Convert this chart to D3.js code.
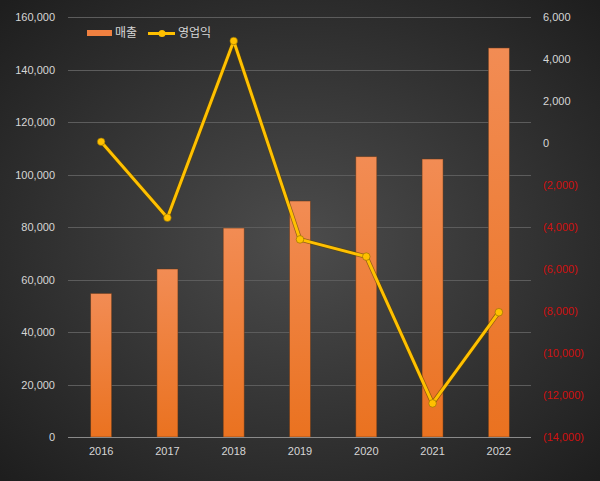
<!DOCTYPE html>
<html>
<head>
<meta charset="utf-8">
<script src="https://cdn.jsdelivr.net/npm/d3@7"></script>
<style>
  body { margin: 0; background: #2a2a2a; }
  svg { display: block; font-family: "Noto Sans CJK KR", "Noto Sans", sans-serif; }
</style>
</head>
<body>
<div id="chart"></div>
<script>
// Data
const years = ["2016", "2017", "2018", "2019", "2020", "2021", "2022"];
const sales = [54700, 64000, 79600, 89900, 106800, 105900, 148200];
const profit = [60, -3560, 4860, -4590, -5410, -12400, -8060];
const leftTicks = [0, 20000, 40000, 60000, 80000, 100000, 120000, 140000, 160000];
const rightTicks = [-14000, -12000, -10000, -8000, -6000, -4000, -2000, 0, 2000, 4000, 6000];

const width = 600, height = 481;
const margin = { top: 17, right: 68, bottom: 44, left: 68 };

const svg = d3.select("#chart").append("svg")
    .attr("width", width)
    .attr("height", height);

const defs = svg.append("defs");

// background: dark radial gradient
const bg = defs.append("radialGradient")
    .attr("id", "bg")
    .attr("cx", "50%").attr("cy", "50%").attr("r", "70%");
bg.append("stop").attr("offset", "0%").attr("stop-color", "#4c4c4c");
bg.append("stop").attr("offset", "100%").attr("stop-color", "#1e1e1e");

// bar gradient
const barGrad = defs.append("linearGradient")
    .attr("id", "barGrad")
    .attr("x1", 0).attr("y1", 0).attr("x2", 0).attr("y2", 1);
barGrad.append("stop").attr("offset", "0%").attr("stop-color", "#f28c54");
barGrad.append("stop").attr("offset", "100%").attr("stop-color", "#ea7220");

svg.append("rect")
    .attr("width", width)
    .attr("height", height)
    .attr("fill", "url(#bg)");

// scales
const x = d3.scaleBand()
    .domain(years)
    .range([margin.left, width - margin.right]);

const yLeft = d3.scaleLinear()
    .domain([0, 160000])
    .range([height - margin.bottom, margin.top]);

const yRight = d3.scaleLinear()
    .domain([-14000, 6000])
    .range([height - margin.bottom, margin.top]);

// gridlines
svg.append("g")
    .selectAll("line")
    .data(leftTicks.filter(d => d > 0))
    .enter()
    .append("line")
    .attr("x1", margin.left)
    .attr("x2", width - margin.right - 1)
    .attr("y1", d => Math.round(yLeft(d)) + 0.5)
    .attr("y2", d => Math.round(yLeft(d)) + 0.5)
    .attr("stroke", "#5c5c5c")
    .attr("stroke-width", 1);

// bars
const barWidth = 21;
svg.append("g")
    .selectAll("rect")
    .data(sales)
    .enter()
    .append("rect")
    .attr("x", (d, i) => x(years[i]) + x.bandwidth() / 2 - barWidth / 2)
    .attr("y", d => yLeft(d))
    .attr("width", barWidth)
    .attr("height", d => yLeft(0) - yLeft(d))
    .attr("fill", "url(#barGrad)")
    .attr("stroke", "#5a3418")
    .attr("stroke-opacity", 0.6)
    .attr("stroke-width", 0.8);

// bottom axis line
svg.append("line")
    .attr("x1", margin.left)
    .attr("x2", width - margin.right - 1)
    .attr("y1", yLeft(0) + 0.5)
    .attr("y2", yLeft(0) + 0.5)
    .attr("stroke", "#8a8a8a")
    .attr("stroke-width", 1.2);

// left axis
const leftAxis = svg.append("g")
    .attr("transform", `translate(${margin.left},0)`)
    .call(d3.axisLeft(yLeft).tickValues(leftTicks).tickSize(0).tickPadding(13)
        .tickFormat(d3.format(",")));
leftAxis.select(".domain").remove();
leftAxis.selectAll("text")
    .attr("fill", "#d6d6d6")
    .attr("font-size", "11px");

// right axis
const fmtRight = d => d < 0 ? "(" + d3.format(",")(-d) + ")" : d3.format(",")(d);
const rightAxis = svg.append("g")
    .attr("transform", `translate(${width - margin.right},0)`)
    .call(d3.axisRight(yRight).tickValues(rightTicks).tickSize(0).tickPadding(11)
        .tickFormat(fmtRight));
rightAxis.select(".domain").remove();
rightAxis.selectAll("text")
    .attr("fill", d => d < 0 ? "#d01010" : "#d6d6d6")
    .attr("font-size", "11px");

// bottom axis labels
const bottomAxis = svg.append("g")
    .attr("transform", `translate(0,${yLeft(0)})`)
    .call(d3.axisBottom(x).tickSize(0).tickPadding(10));
bottomAxis.select(".domain").remove();
bottomAxis.selectAll("text")
    .attr("fill", "#d6d6d6")
    .attr("font-size", "11px");

// profit line
const line = d3.line()
    .x((d, i) => x(years[i]) + x.bandwidth() / 2)
    .y(d => yRight(d));

svg.append("path")
    .datum(profit)
    .attr("d", line)
    .attr("fill", "none")
    .attr("stroke", "#5a4400")
    .attr("stroke-opacity", 0.6)
    .attr("stroke-width", 4.5)
    .attr("stroke-linejoin", "round");

svg.append("path")
    .datum(profit)
    .attr("d", line)
    .attr("fill", "none")
    .attr("stroke", "#ffc000")
    .attr("stroke-width", 3)
    .attr("stroke-linejoin", "round");

svg.append("g")
    .selectAll("circle")
    .data(profit)
    .enter()
    .append("circle")
    .attr("cx", (d, i) => x(years[i]) + x.bandwidth() / 2)
    .attr("cy", d => yRight(d))
    .attr("r", 3.8)
    .attr("fill", "#ffc000")
    .attr("stroke", "#8a6a00")
    .attr("stroke-width", 0.6);

// legend
const legend = svg.append("g")
    .attr("transform", "translate(87, 33)");

legend.append("rect")
    .attr("x", 0)
    .attr("y", -3)
    .attr("width", 25)
    .attr("height", 6)
    .attr("fill", "#f08040");

legend.append("text")
    .attr("x", 28)
    .attr("y", 4)
    .attr("fill", "#d6d6d6")
    .attr("font-size", "12px")
    .text("매출");

legend.append("line")
    .attr("x1", 61)
    .attr("x2", 88)
    .attr("y1", 0.5)
    .attr("y2", 0.5)
    .attr("stroke", "#ffc000")
    .attr("stroke-width", 3);

legend.append("circle")
    .attr("cx", 75)
    .attr("cy", 0.5)
    .attr("r", 3.5)
    .attr("fill", "#ffc000");

legend.append("text")
    .attr("x", 91)
    .attr("y", 4)
    .attr("fill", "#d6d6d6")
    .attr("font-size", "12px")
    .text("영업익");
</script>
</body>
</html>
